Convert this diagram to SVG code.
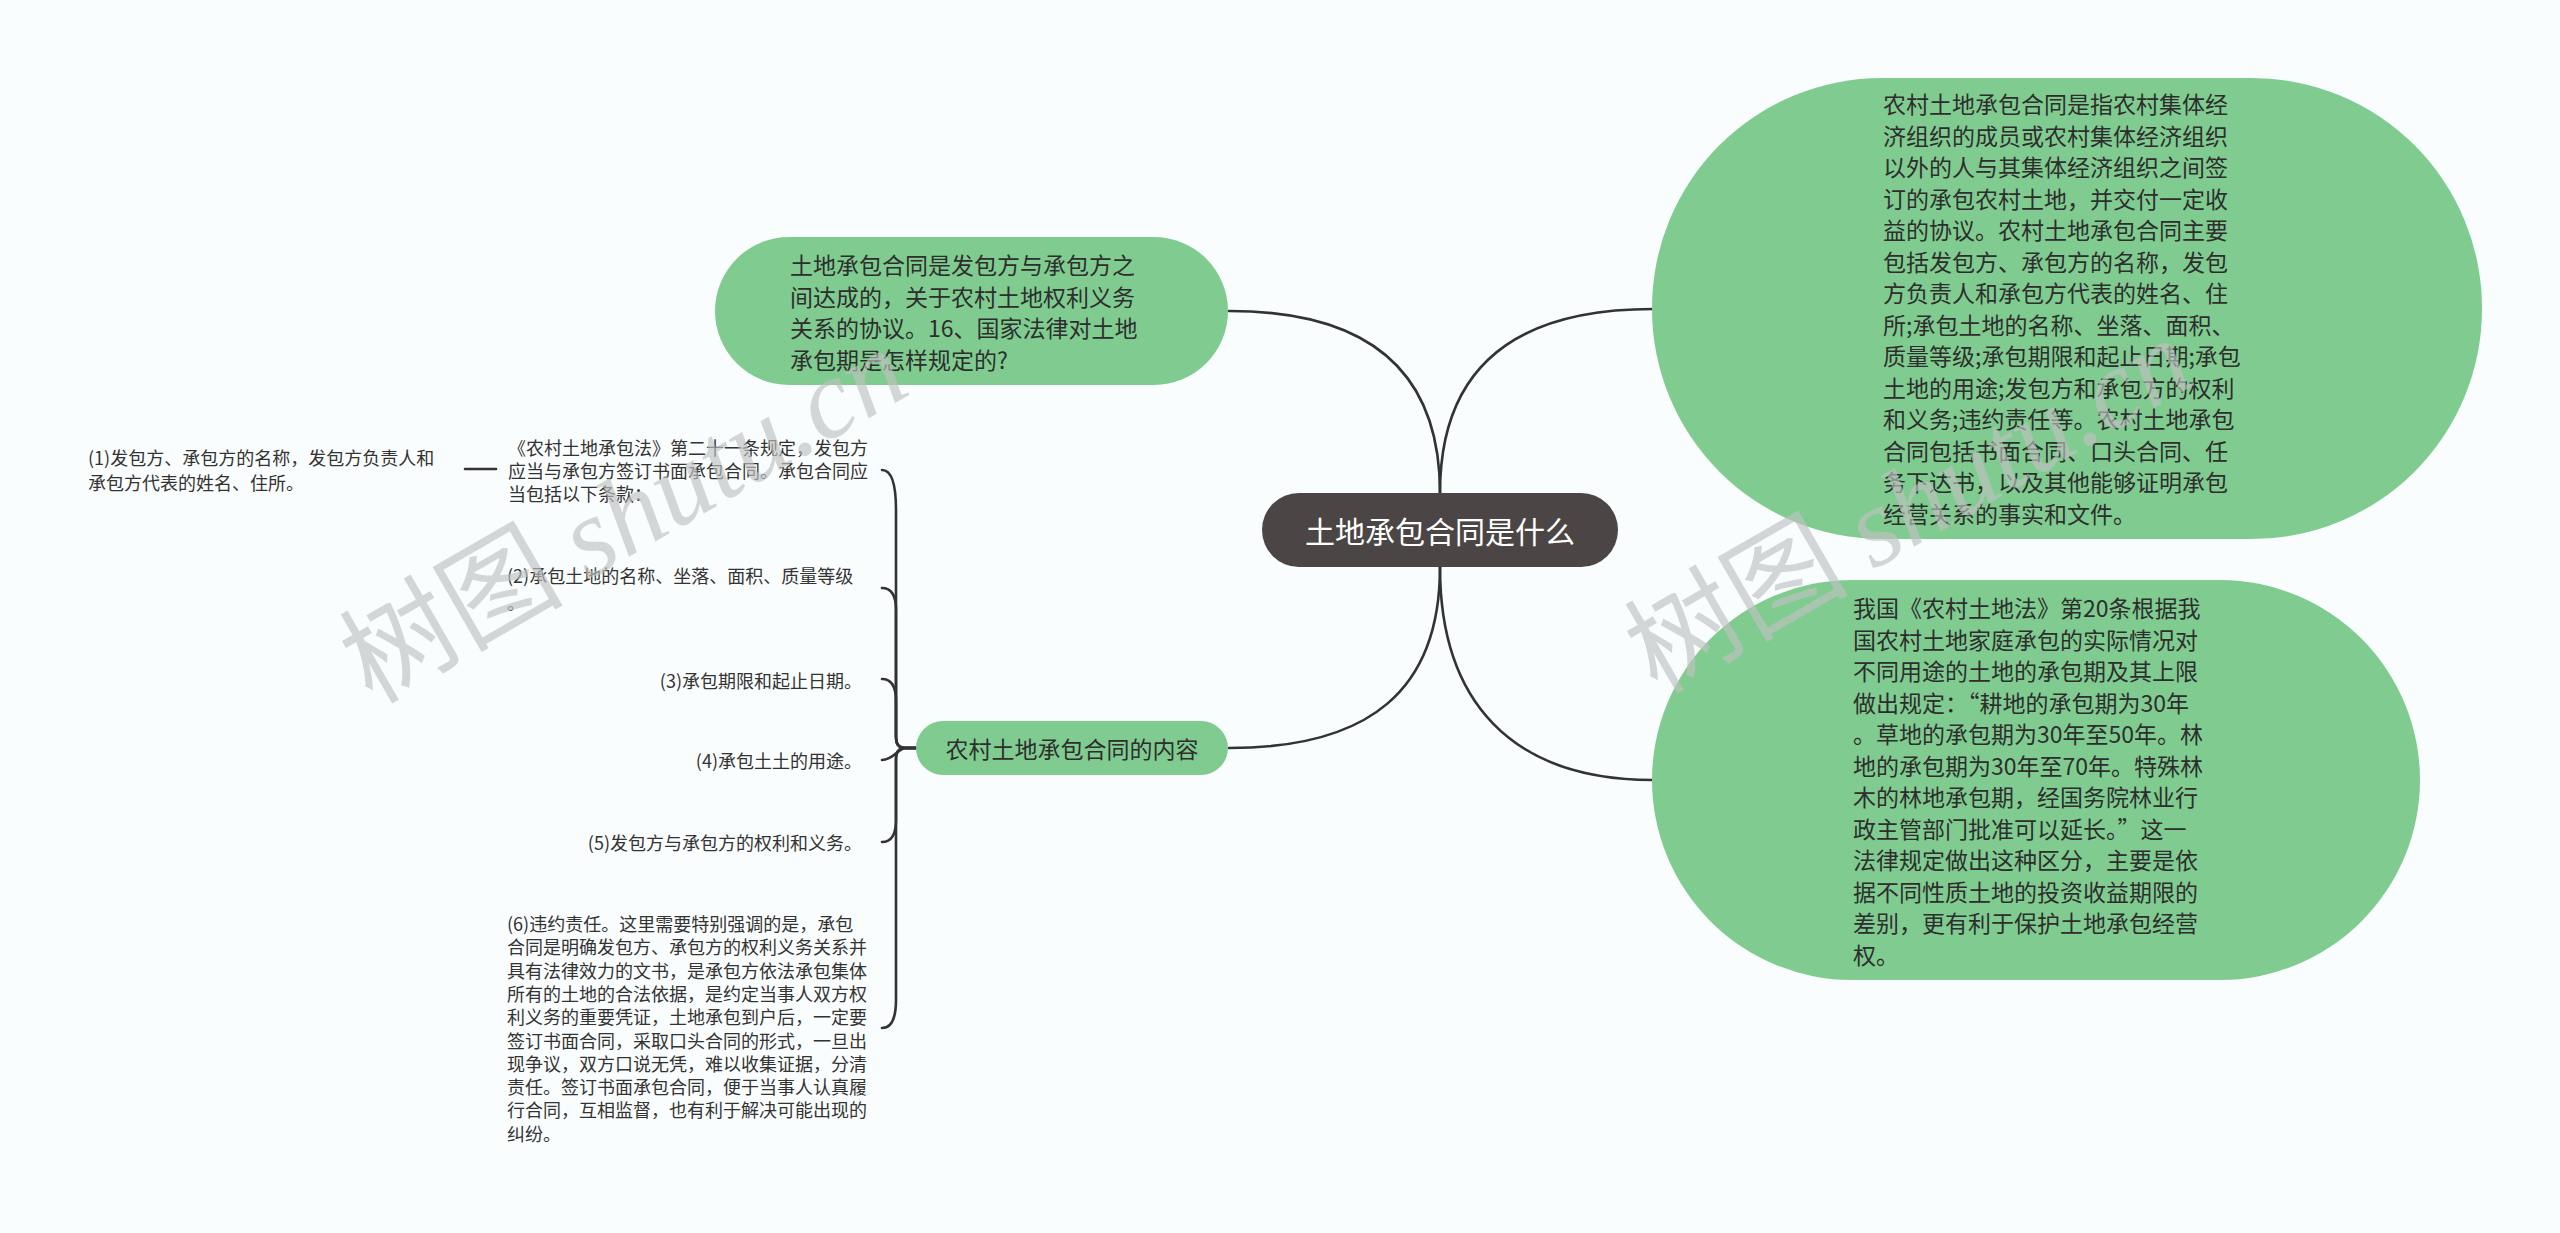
<svg xmlns="http://www.w3.org/2000/svg" width="2560" height="1233" viewBox="0 0 2560 1233">
<defs>
<style>
.bg{fill:#fafdfd}
.green{fill:#80cc90}
.center{fill:#4b4645}
.t{font-family:"Noto Sans CJK SC","Noto Sans",sans-serif;fill:#2e2e2e;dominant-baseline:central}
.big{font-size:23px}
.leaf{font-size:18px;fill:#333}
.ct{font-size:30px;fill:#ffffff;text-anchor:middle}
.conn{fill:none;stroke:#333;stroke-width:2.6;stroke-linecap:round}
.wm{fill:#bfc2c2;opacity:0.65;font-size:112px}
.wmc{font-family:"Noto Sans CJK SC",sans-serif}
.wml{font-family:"Liberation Serif",serif;font-style:italic}
</style>
</defs>
<rect class="bg" x="0" y="0" width="2560" height="1233"/>

<g id="connectors">
<path class="conn" d="M1229 311 C1390 311 1440 390 1440 493"/>
<path class="conn" d="M1653 309 C1490 309 1440 390 1440 493"/>
<path class="conn" d="M1440 567 C1440 690 1370 748 1229 748"/>
<path class="conn" d="M1440 567 C1440 700 1510 780 1653 780"/>
<path class="conn" d="M916 748 L906 748 C898 748 896 744 896 736 L896 510 C896 485 892 470 882 470"/>
<path class="conn" d="M916 748 L906 748 C898 748 896 744 896 736 L896 610 C896 596 892 588 882 588"/>
<path class="conn" d="M916 748 L906 748 C898 748 896 744 896 736 L896 701 C896 687 892 679 882 679"/>
<path class="conn" d="M916 748 L906 748 C898 748 894 760 882 760"/>
<path class="conn" d="M916 748 L906 748 C898 748 896 752 896 760 L896 820 C896 834 892 842 882 842"/>
<path class="conn" d="M916 748 L906 748 C898 748 896 752 896 760 L896 1000 C896 1018 892 1028 882 1028"/>
<path class="conn" d="M496 469 L465 469"/>
</g>

<g id="center">
<rect class="center" x="1262" y="493" width="356" height="74" rx="37"/>
<text class="t ct" x="1440" y="530">土地承包合同是什么</text>
</g>

<g id="node-left-top">
<rect class="green" x="715" y="237" width="513" height="148" rx="74"/>
<text class="t big" x="790" y="264">土地承包合同是发包方与承包方之</text>
<text class="t big" x="790" y="295.5">间达成的，关于农村土地权利义务</text>
<text class="t big" x="790" y="327">关系的协议。16、国家法律对土地</text>
<text class="t big" x="790" y="358.5">承包期是怎样规定的?</text>
</g>

<g id="node-content">
<rect class="green" x="916" y="721" width="312" height="54" rx="27"/>
<text class="t big" x="1072" y="748" text-anchor="middle">农村土地承包合同的内容</text>
</g>

<g id="node-right-top">
<rect class="green" x="1652" y="78" width="830" height="461" rx="230"/>
<text class="t big" x="1883" y="103">农村土地承包合同是指农村集体经</text>
<text class="t big" x="1883" y="134.5">济组织的成员或农村集体经济组织</text>
<text class="t big" x="1883" y="166">以外的人与其集体经济组织之间签</text>
<text class="t big" x="1883" y="197.5">订的承包农村土地，并交付一定收</text>
<text class="t big" x="1883" y="229">益的协议。农村土地承包合同主要</text>
<text class="t big" x="1883" y="260.5">包括发包方、承包方的名称，发包</text>
<text class="t big" x="1883" y="292">方负责人和承包方代表的姓名、住</text>
<text class="t big" x="1883" y="323.5">所;承包土地的名称、坐落、面积、</text>
<text class="t big" x="1883" y="355">质量等级;承包期限和起止日期;承包</text>
<text class="t big" x="1883" y="386.5">土地的用途;发包方和承包方的权利</text>
<text class="t big" x="1883" y="418">和义务;违约责任等。农村土地承包</text>
<text class="t big" x="1883" y="449.5">合同包括书面合同、口头合同、任</text>
<text class="t big" x="1883" y="481">务下达书，以及其他能够证明承包</text>
<text class="t big" x="1883" y="512.5">经营关系的事实和文件。</text>
</g>

<g id="node-right-bottom">
<rect class="green" x="1652" y="580" width="768" height="400" rx="200"/>
<text class="t big" x="1853" y="607">我国《农村土地法》第20条根据我</text>
<text class="t big" x="1853" y="638.5">国农村土地家庭承包的实际情况对</text>
<text class="t big" x="1853" y="670">不同用途的土地的承包期及其上限</text>
<text class="t big" x="1853" y="701.5">做出规定：“耕地的承包期为30年</text>
<text class="t big" x="1853" y="733">。草地的承包期为30年至50年。林</text>
<text class="t big" x="1853" y="764.5">地的承包期为30年至70年。特殊林</text>
<text class="t big" x="1853" y="796">木的林地承包期，经国务院林业行</text>
<text class="t big" x="1853" y="827.5">政主管部门批准可以延长。”这一</text>
<text class="t big" x="1853" y="859">法律规定做出这种区分，主要是依</text>
<text class="t big" x="1853" y="890.5">据不同性质土地的投资收益期限的</text>
<text class="t big" x="1853" y="922">差别，更有利于保护土地承包经营</text>
<text class="t big" x="1853" y="953.5">权。</text>
</g>

<g id="leaf-a">
<text class="t leaf" x="508" y="447">《农村土地承包法》第二十一条规定，发包方</text>
<text class="t leaf" x="508" y="470">应当与承包方签订书面承包合同。承包合同应</text>
<text class="t leaf" x="508" y="493">当包括以下条款：</text>
</g>

<g id="leaf-1">
<text class="t leaf" x="88" y="457">(1)发包方、承包方的名称，发包方负责人和</text>
<text class="t leaf" x="88" y="482">承包方代表的姓名、住所。</text>
</g>

<g id="leaf-2">
<text class="t leaf" x="507" y="575">(2)承包土地的名称、坐落、面积、质量等级</text>
<text class="t leaf" x="507" y="602">。</text>
</g>

<g id="leaf-3">
<text class="t leaf" x="862" y="680" text-anchor="end">(3)承包期限和起止日期。</text>
</g>

<g id="leaf-4">
<text class="t leaf" x="862" y="760" text-anchor="end">(4)承包土土的用途。</text>
</g>

<g id="leaf-5">
<text class="t leaf" x="862" y="842" text-anchor="end">(5)发包方与承包方的权利和义务。</text>
</g>

<g id="leaf-6">
<text class="t leaf" x="507" y="923">(6)违约责任。这里需要特别强调的是，承包</text>
<text class="t leaf" x="507" y="946.3">合同是明确发包方、承包方的权利义务关系并</text>
<text class="t leaf" x="507" y="969.6">具有法律效力的文书，是承包方依法承包集体</text>
<text class="t leaf" x="507" y="992.9">所有的土地的合法依据，是约定当事人双方权</text>
<text class="t leaf" x="507" y="1016.2">利义务的重要凭证，土地承包到户后，一定要</text>
<text class="t leaf" x="507" y="1039.5">签订书面合同，采取口头合同的形式，一旦出</text>
<text class="t leaf" x="507" y="1062.8">现争议，双方口说无凭，难以收集证据，分清</text>
<text class="t leaf" x="507" y="1086.1">责任。签订书面承包合同，便于当事人认真履</text>
<text class="t leaf" x="507" y="1109.4">行合同，互相监督，也有利于解决可能出现的</text>
<text class="t leaf" x="507" y="1132.7">纠纷。</text>
</g>

<g id="watermarks">
<text class="wm" transform="translate(372 705) rotate(-30)"><tspan class="wmc">树图</tspan><tspan class="wml" dx="25">shutu.cn</tspan></text>
<text class="wm" transform="translate(1657 695) rotate(-30)"><tspan class="wmc">树图</tspan><tspan class="wml" dx="25">shutu.cn</tspan></text>
</g>
</svg>
